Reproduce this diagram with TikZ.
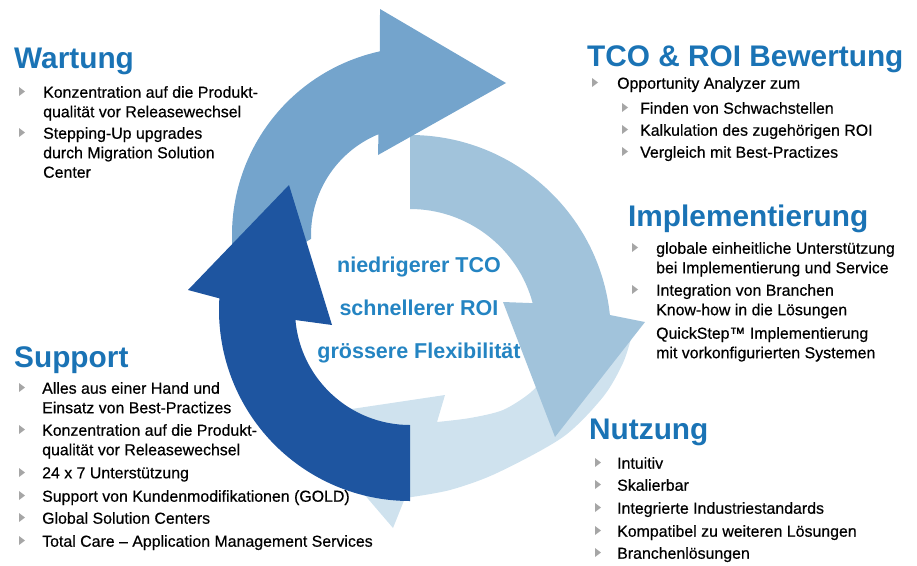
\documentclass[tikz,border=0pt]{standalone}
\usepackage{fontspec}
\setmainfont{Liberation Sans}
\newfontfamily\listfont{Liberation Sans}[FakeBold=0.5]
\usetikzlibrary{positioning}
\definecolor{titleblue}{HTML}{1A73B5}
\definecolor{coreblue}{HTML}{2484C2}
\definecolor{bulgray}{HTML}{A6A6A6}
\definecolor{topfill}{HTML}{74A4CC}
\definecolor{lightfill}{HTML}{A1C3DB}
\definecolor{palefill}{HTML}{CFE2EE}
\definecolor{darkfill}{HTML}{1E55A0}
\tikzstyle{blocktitle} = [anchor=base west, inner sep=0pt, font=\fontsize{29.8}{34}\selectfont\bfseries, text=titleblue]
\tikzstyle{listitem} = [inner sep=0pt, align=left, font=\listfont\fontsize{15.9}{19.5}\selectfont]
\tikzstyle{centertext} = [anchor=base, inner sep=0pt, font=\fontsize{21.5}{25}\selectfont\bfseries, text=coreblue]
\tikzset{bul/.pic={\fill[bulgray] (-3,4.5) -- (3,0) -- (-3,-4.5) -- cycle;}}

\begin{document}
\begin{tikzpicture}[x=1pt,y=1pt]
\useasboundingbox (0,0) rectangle (917,-565);

% cycle arrows
\fill[palefill] plot[smooth] coordinates {(632,-335) (623,-363) (603,-397) (563,-437) (497,-473) (450,-490) (405,-498)}
  -- (393,-528) -- (298,-417) -- (445,-395)
  -- plot[smooth] coordinates {(437,-422) (470,-418) (503,-410) (530,-393) (543,-377) (560,-340)} -- cycle;
\begin{scope}[shift={(410,-336)}]
\fill[lightfill] (90:201) arc[start angle=90, end angle=6, radius=201] -- (235,14) -- (145,-101) -- (93,34)
  -- (15:127) arc[start angle=15, end angle=90, radius=127] -- cycle;
\end{scope}
\begin{scope}[shift={(420,-235)}]
\fill[topfill] (195:188) arc[start angle=195, end angle=102.3, radius=188] -- (-40,226) -- (86,152) -- (-42,80)
  -- (112.4:109) arc[start angle=112.4, end angle=182, radius=109] -- cycle;
\end{scope}
\begin{scope}[shift={(410,-310)}]
\fill[darkfill] (270:191) arc[start angle=270, end angle=176.5, radius=191] -- (-222,20) -- (-121,125) -- (-78,-15)
  -- (185:115) arc[start angle=185, end angle=270, radius=115] -- cycle;
\end{scope}

% centre
\node[centertext] (mid1) at (419,-272) {niedrigerer TCO};
\node[centertext] (mid2) at ([yshift=-43pt]mid1.base) {schnellerer ROI};
\node[centertext] (mid3) at ([yshift=-43pt]mid2.base) {grössere Flexibilität};

% Wartung
\node[blocktitle] (wart) at (14,-68) {Wartung};
\node[listitem, below right=18pt and 29pt of wart.base west] (wart1) {Konzentration auf die Produkt-\\qualität vor Releasewechsel};
\node[listitem, below right=59pt and 29pt of wart.base west] (wart2) {Stepping-Up upgrades\\durch Migration Solution\\Center};
\pic at ([shift={(-21,-5.5)}]wart1.north west) {bul};
\pic at ([shift={(-21,-5.5)}]wart2.north west) {bul};

% TCO & ROI
\node[blocktitle] (tco) at (587,-66) {TCO \& ROI Bewertung};
\node[listitem, below right=11pt and 30pt of tco.base west] (tco1) {Opportunity Analyzer zum};
\node[listitem, below right=36pt and 53pt of tco.base west] (tco1a) {Finden von Schwachstellen};
\node[listitem, below right=58pt and 53pt of tco.base west] (tco1b) {Kalkulation des zugehörigen ROI};
\node[listitem, below right=80pt and 53pt of tco.base west] (tco1c) {Vergleich mit Best-Practizes};
\pic at ([shift={(-22,-5.5)}]tco1.north west) {bul};
\pic at ([shift={(-15,-5.5)}]tco1a.north west) {bul};
\pic at ([shift={(-15,-5.5)}]tco1b.north west) {bul};
\pic at ([shift={(-15,-5.5)}]tco1c.north west) {bul};

% Implementierung
\node[blocktitle] (impl) at (628,-226) {Implementierung};
\node[listitem, below right=16pt and 28pt of impl.base west] (impl1) {globale einheitliche Unterstützung\\bei Implementierung und Service};
\node[listitem, below right=58pt and 28pt of impl.base west] (impl2) {Integration von Branchen\\Know-how in die Lösungen};
\node[listitem, below right=101pt and 28pt of impl.base west] (impl3) {QuickStep™ Implementierung\\mit vorkonfigurierten Systemen};
\pic at ([shift={(-21,-5.5)}]impl1.north west) {bul};
\pic at ([shift={(-21,-5.5)}]impl2.north west) {bul};

% Nutzung
\node[blocktitle] (nutz) at (589,-439) {Nutzung};
\node[listitem, below right=18pt and 28pt of nutz.base west] (nutz1) {Intuitiv};
\node[listitem, below right=40pt and 28pt of nutz.base west] (nutz2) {Skalierbar};
\node[listitem, below right=63pt and 28pt of nutz.base west] (nutz3) {Integrierte Industriestandards};
\node[listitem, below right=86pt and 28pt of nutz.base west] (nutz4) {Kompatibel zu weiteren Lösungen};
\node[listitem, below right=108pt and 28pt of nutz.base west] (nutz5) {Branchenlösungen};
\pic at ([shift={(-19,-5.5)}]nutz1.north west) {bul};
\pic at ([shift={(-19,-5.5)}]nutz2.north west) {bul};
\pic at ([shift={(-19,-5.5)}]nutz3.north west) {bul};
\pic at ([shift={(-19,-5.5)}]nutz4.north west) {bul};
\pic at ([shift={(-19,-5.5)}]nutz5.north west) {bul};

% Support
\node[blocktitle] (supp) at (14,-367) {Support};
\node[listitem, below right=15pt and 28pt of supp.base west] (supp1) {Alles aus einer Hand und\\Einsatz von Best-Practizes};
\node[listitem, below right=57pt and 28pt of supp.base west] (supp2) {Konzentration auf die Produkt-\\qualität vor Releasewechsel};
\node[listitem, below right=100pt and 28pt of supp.base west] (supp3) {24 x 7 Unterstützung};
\node[listitem, below right=123pt and 28pt of supp.base west] (supp4) {Support von Kundenmodifikationen (GOLD)};
\node[listitem, below right=145pt and 28pt of supp.base west] (supp5) {Global Solution Centers};
\node[listitem, below right=168pt and 28pt of supp.base west] (supp6) {Total Care – Application Management Services};
\pic at ([shift={(-20,-5.5)}]supp1.north west) {bul};
\pic at ([shift={(-20,-5.5)}]supp2.north west) {bul};
\pic at ([shift={(-20,-5.5)}]supp3.north west) {bul};
\pic at ([shift={(-20,-5.5)}]supp4.north west) {bul};
\pic at ([shift={(-20,-5.5)}]supp5.north west) {bul};
\pic at ([shift={(-20,-5.5)}]supp6.north west) {bul};
\end{tikzpicture}
\end{document}
